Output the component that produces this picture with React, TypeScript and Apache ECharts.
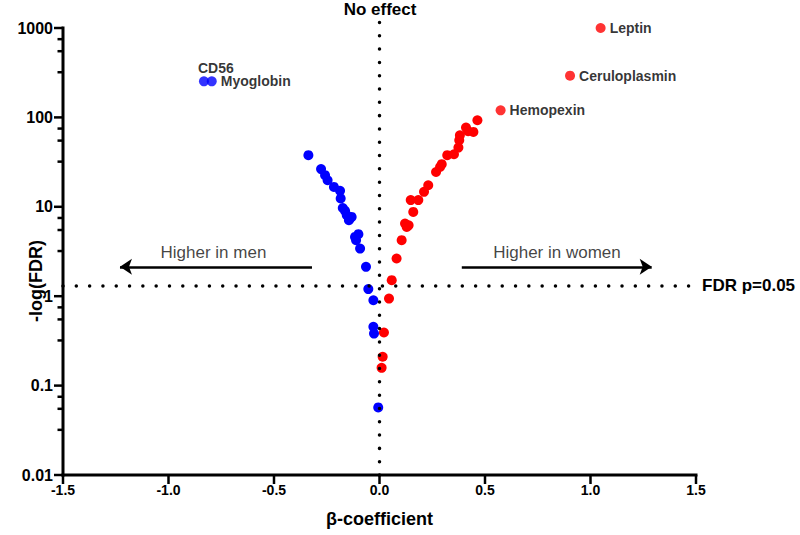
import React, { useEffect, useRef } from "react";
import * as echarts from "echarts";

// Proteins higher in men (negative beta)
const menBeta = [-0.337, -0.277, -0.258, -0.246, -0.216, -0.187, -0.184, -0.174, -0.163, -0.155, -0.14, -0.132, -0.145, -0.116, -0.1, -0.111, -0.092, -0.064, -0.053, -0.029, -0.029, -0.026, -0.006];
const menFdr = [37.8, 26.4, 22.6, 19.8, 16.7, 15.1, 12.4, 9.7, 9.0, 8.05, 7.4, 7.7, 7.08, 4.6, 4.94, 4.23, 3.41, 2.13, 1.2, 0.9, 0.454, 0.382, 0.057];

// Proteins higher in women (positive beta)
const womenBeta = [0.464, 0.445, 0.41, 0.381, 0.378, 0.374, 0.353, 0.321, 0.287, 0.268, 0.231, 0.211, 0.184, 0.148, 0.16, 0.121, 0.129, 0.105, 0.081, 0.058, 0.045, 0.021, 0.015, 0.01, 0.138, 0.295, 0.42];
const womenFdr = [93, 68.8, 77, 63, 55.6, 46, 38.7, 37.8, 27.9, 24.5, 17.4, 14.7, 11.9, 11.9, 8.77, 6.5, 5.96, 4.23, 2.64, 1.51, 0.94, 0.393, 0.21, 0.158, 6.2, 30, 70];

// Labelled proteins
const labeledNames = ["CD56", "Myoglobin", "Leptin", "Ceruloplasmin", "Hemopexin"];
const labeledBeta = [-0.832, -0.795, 1.048, 0.903, 0.574];
const labeledFdr = [253, 253, 1000, 293, 120];
const labeledGroup = ["men", "men", "women", "women", "women"];

const yMajorTicks = [0.01, 0.1, 1, 10, 100, 1000];
const yMinorFactors = [3.2, 5.5, 7.5];
const xTicks = [-1.5, -1.0, -0.5, 0, 0.5, 1.0, 1.5];
const xMin = -1.5;
const xMax = 1.5;
const xInterval = 0.5;
const fdrThreshold = 0.05;

const arrowY = 2.13;
const menArrow = [-0.32, -1.23];
const womenArrow = [0.39, 1.29];
const directionTexts = ["Higher in men", "Higher in women"];
const directionTextX = [-0.787, 0.841];
const directionTextY = 3.05;

const BLUE = "#0000ff";
const RED = "#ff0000";
const FONT = "'Liberation Sans', Arial, sans-serif";

const W = 800;
const H = 535;
const G_LEFT = 63;
const G_RIGHT = 104;
const G_TOP = 28;
const G_BOTTOM = 60;

export default function App() {
  const ref = useRef<HTMLDivElement>(null);
  useEffect(() => {
    document.body.style.margin = "0";
    const chart = echarts.init(ref.current!, null, { renderer: "svg" });
    const thr = -Math.log10(fdrThreshold);
    const yMin = yMajorTicks[0];
    const yMax = yMajorTicks[yMajorTicks.length - 1];
    const minorVals: number[] = [];
    for (let i = 0; i < yMajorTicks.length - 1; i++) {
      for (const f of yMinorFactors) minorVals.push(yMajorTicks[i] * f);
    }
    const labeledData = labeledNames.map((n, i) => {
      const color = labeledGroup[i] === "men" ? BLUE : RED;
      let label: any = { show: true, position: "right", distance: 4 };
      if (n === "CD56") {
        label = { show: true, position: [-1, -8], align: "left", verticalAlign: "middle" };
      }
      return { name: n, value: [labeledBeta[i], labeledFdr[i]], itemStyle: { color }, label };
    });
    const rc = (x: number, y: number, w: number, h: number) => ({
      type: "rect",
      shape: { x, y, width: w, height: h },
      style: { fill: "#000" },
    });
    // frame of the plot area (axis lines and x ticks) from the grid layout
    const gx0 = G_LEFT;
    const gx1 = W - G_RIGHT;
    const gy0 = G_TOP;
    const gy1 = H - G_BOTTOM;
    const frame: any[] = [
      { ...rc(gx0 - 1.5, gy1 - 1.5, gx1 - gx0 + 3, 3), z: 100 },
      { ...rc(gx0 - 1.5, gy0 - 1.5, 3, gy1 - gy0 + 3), z: 100 },
      ...xTicks.map((t) => ({
        ...rc(gx0 + ((t - xMin) / (xMax - xMin)) * (gx1 - gx0) - 1.25, gy1, 2.5, 9),
        z: 100,
      })),
    ];
    chart.setOption({
      animation: false,
      textStyle: { fontFamily: FONT },
      grid: { left: G_LEFT, right: G_RIGHT, top: G_TOP, bottom: G_BOTTOM, containLabel: false, outerBoundsMode: "none" },
      xAxis: {
        type: "value",
        min: xMin,
        max: xMax,
        interval: xInterval,
        name: "β-coefficient",
        nameLocation: "middle",
        nameGap: 35,
        nameMoveOverlap: false,
        nameTextStyle: { fontSize: 18, fontWeight: "bold", color: "#000", fontFamily: FONT },
        axisLine: { show: false },
        axisTick: { show: false },
        axisLabel: { fontSize: 14, fontWeight: "bold", color: "#000", margin: 8, formatter: (v: number) => v.toFixed(1) },
        splitLine: { show: false },
      },
      yAxis: {
        type: "log",
        logBase: 10,
        min: yMin,
        max: yMax,
        axisLine: { show: false },
        axisTick: { show: false },
        axisLabel: { fontSize: 16, fontWeight: "bold", color: "#000", margin: 10, formatter: (v: number) => String(v) },
        splitLine: { show: false },
        minorTick: { show: false },
      },
      graphic: [
        ...frame,
        {
          type: "text",
          x: 380,
          y: 9,
          style: { text: "No effect", fontSize: 17, fontWeight: "bold", fill: "#000", fontFamily: FONT, align: "center", verticalAlign: "middle" },
        },
        {
          type: "text",
          x: 702,
          y: 285,
          style: { text: "FDR p=0.05", fontSize: 17, fontWeight: "bold", fill: "#000", fontFamily: FONT, align: "left", verticalAlign: "middle" },
        },
        {
          type: "text",
          x: 36,
          y: 281,
          rotation: Math.PI / 2,
          style: { text: "-log(FDR)", fontSize: 18, fontWeight: "bold", fill: "#000", fontFamily: FONT, align: "center", verticalAlign: "middle" },
        },
      ],
      series: [
        {
          type: "custom",
          clip: false,
          silent: true,
          z: 10,
          data: [[0, 1]],
          renderItem: (params: any, api: any) => {
            const children: any[] = [];
            for (const t of yMajorTicks) {
              const p = api.coord([xMin, t]);
              children.push(rc(p[0] - 9, p[1] - 1.25, 9, 2.5));
            }
            for (const t of minorVals) {
              const p = api.coord([xMin, t]);
              children.push(rc(p[0] - 5.5, p[1] - 1.25, 5.5, 2.5));
            }
            return { type: "group", children };
          },
        },
        {
          type: "line",
          clip: false,
          silent: true,
          symbol: "none",
          data: [[0, yMin], [0, 1200]],
          lineStyle: { color: "#000", width: 3.5, type: [0.01, 13.3], cap: "round" },
        },
        {
          type: "line",
          clip: false,
          silent: true,
          symbol: "none",
          data: [[xMin, thr], [1.48, thr]],
          lineStyle: { color: "#000", width: 3.5, type: [0.01, 13.3], cap: "round" },
          markLine: {
            silent: true,
            symbol: ["none", "arrow"],
            symbolSize: 12,
            label: { show: false },
            lineStyle: { color: "#000", width: 2.5, type: "solid" },
            data: [
              [{ coord: [menArrow[0], arrowY] }, { coord: [menArrow[1], arrowY] }],
              [{ coord: [womenArrow[0], arrowY] }, { coord: [womenArrow[1], arrowY] }],
            ],
          },
        },
        {
          type: "scatter",
          symbolSize: 0,
          silent: true,
          data: directionTexts.map((t, i) => ({ name: t, value: [directionTextX[i], directionTextY] })),
          label: { show: true, position: "inside", formatter: "{b}", fontSize: 17, color: "#111", fontFamily: FONT },
        },
        {
          type: "scatter",
          symbolSize: 10,
          itemStyle: { color: BLUE, opacity: 1 },
          data: menBeta.map((b, i) => [b, menFdr[i]]),
        },
        {
          type: "scatter",
          symbolSize: 10,
          itemStyle: { color: RED, opacity: 1 },
          data: womenBeta.map((b, i) => [b, womenFdr[i]]),
        },
        {
          type: "scatter",
          symbolSize: 10,
          data: labeledData,
          label: { formatter: "{b}", fontSize: 14, fontWeight: "bold", color: "#000", fontFamily: FONT },
        },
      ],
    });
    return () => chart.dispose();
  }, []);
  return <div ref={ref} style={{ width: W, height: H }} />;
}
